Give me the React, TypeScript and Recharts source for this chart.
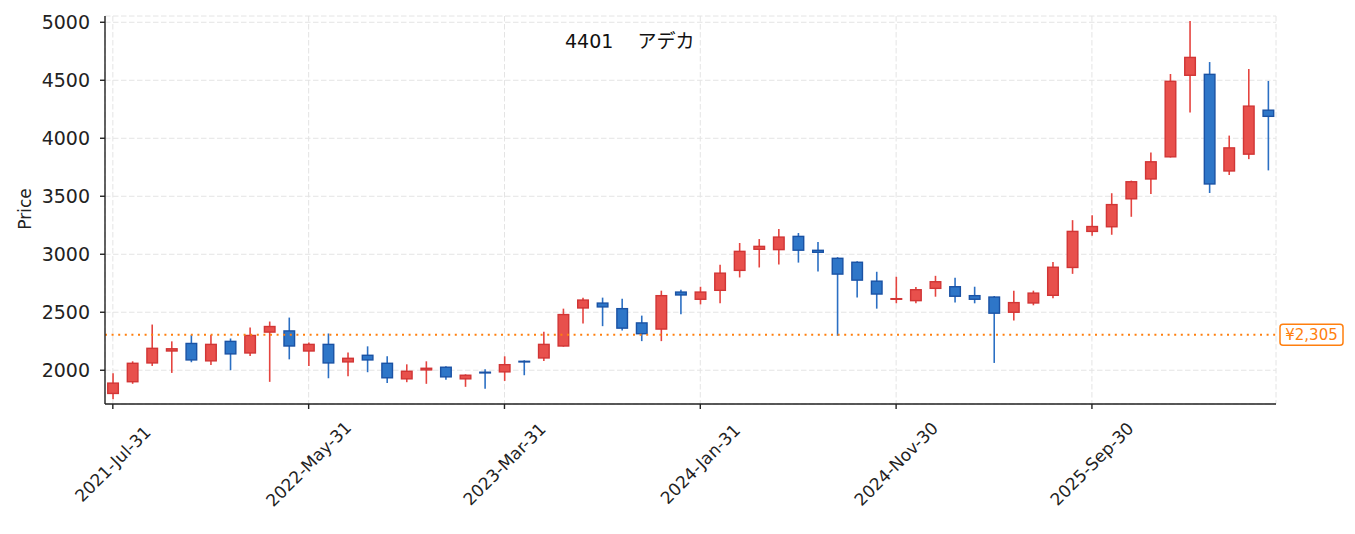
import React from "react";
import {
  ComposedChart,
  Bar,
  XAxis,
  YAxis,
  CartesianGrid,
  ReferenceLine,
} from "recharts";

const title = "4401  アデカ";
const yLabel = "Price";
const refPrice = 2305;
const refLabel = "¥2,305";

const dates = [
  "2021-07-31", "2021-08-31", "2021-09-30", "2021-10-31", "2021-11-30", "2021-12-31",
  "2022-01-31", "2022-02-28", "2022-03-31", "2022-04-30", "2022-05-31", "2022-06-30",
  "2022-07-31", "2022-08-31", "2022-09-30", "2022-10-31", "2022-11-30", "2022-12-31",
  "2023-01-31", "2023-02-28", "2023-03-31", "2023-04-30", "2023-05-31", "2023-06-30",
  "2023-07-31", "2023-08-31", "2023-09-30", "2023-10-31", "2023-11-30", "2023-12-31",
  "2024-01-31", "2024-02-29", "2024-03-31", "2024-04-30", "2024-05-31", "2024-06-30",
  "2024-07-31", "2024-08-31", "2024-09-30", "2024-10-31", "2024-11-30", "2024-12-31",
  "2025-01-31", "2025-02-28", "2025-03-31", "2025-04-30", "2025-05-31", "2025-06-30",
  "2025-07-31", "2025-08-31", "2025-09-30", "2025-10-31", "2025-11-30", "2025-12-31",
  "2026-01-31", "2026-02-28", "2026-03-31", "2026-04-30", "2026-05-31", "2026-06-30",
];

const opens = [
  1794, 1895, 2057, 2160, 2237, 2075, 2255, 2143, 2323, 2345,
  2160, 2229, 2066, 2135, 2066, 1920, 1997, 2032, 1920, 1989,
  1980, 2083, 2100, 2203, 2531, 2585, 2537, 2414, 2349, 2680,
  2606, 2683, 2855, 3037, 3034, 3160, 3040, 2971, 2937, 2774,
  2606, 2594, 2700, 2726, 2649, 2637, 2494, 2574, 2640, 2880,
  3191, 3231, 3472, 3643, 3834, 4537, 4557, 3712, 3857, 4248,
];
const highs = [
  1974, 2077, 2394, 2249, 2303, 2303, 2274, 2369, 2420, 2454,
  2240, 2317, 2154, 2206, 2120, 2051, 2077, 2035, 1965, 2009,
  2120, 2086, 2332, 2531, 2626, 2626, 2617, 2471, 2686, 2694,
  2720, 2909, 3097, 3131, 3217, 3183, 3106, 2975, 2940, 2849,
  2806, 2717, 2814, 2797, 2720, 2640, 2686, 2686, 2934, 3294,
  3337, 3526, 3635, 3877, 4554, 5010, 4657, 4023, 4597, 4494,
];
const lows = [
  1749, 1883, 2037, 1977, 2069, 2045, 2000, 2123, 1900, 2094,
  2037, 1931, 1949, 1983, 1889, 1897, 1883, 1917, 1857, 1840,
  1908, 1957, 2080, 2203, 2403, 2380, 2343, 2251, 2251, 2483,
  2568, 2577, 2800, 2886, 2911, 2928, 2851, 2297, 2628, 2531,
  2577, 2577, 2634, 2583, 2577, 2063, 2429, 2560, 2620, 2831,
  3160, 3168, 3323, 3520, 3834, 4223, 3528, 3683, 3820, 3723,
];
const closes = [
  1895, 2066, 2195, 2191, 2083, 2229, 2135, 2306, 2383, 2203,
  2229, 2057, 2109, 2083, 1929, 1997, 2023, 1937, 1963, 1971,
  2054, 2071, 2229, 2486, 2611, 2540, 2357, 2309, 2649, 2643,
  2680, 2843, 3031, 3074, 3154, 3029, 3011, 2823, 2771, 2651,
  2623, 2700, 2769, 2632, 2606, 2486, 2589, 2671, 2894, 3203,
  3245, 3434, 3631, 3803, 4497, 4703, 3600, 3923, 4283, 4183,
];

const xTickIdx = [0, 10, 20, 30, 40, 50];
const xTickLabels = ["2021-Jul-31", "2022-May-31", "2023-Mar-31", "2024-Jan-31", "2024-Nov-30", "2025-Sep-30"];
const yTicks = [2000, 2500, 3000, 3500, 4000, 4500, 5000];

const data = dates.map((d, i) => ({
  idx: i,
  date: d,
  open: opens[i],
  high: highs[i],
  low: lows[i],
  close: closes[i],
  range: [lows[i], highs[i]],
}));

const UP_FILL = "#e8504c";
const UP_EDGE = "#d13535";
const UP_WICK = "#e5443f";
const DN_FILL = "#2e76c8";
const DN_EDGE = "#1a52a4";
const DN_WICK = "#2b6fc3";
const ORANGE = "#ff7f0e";
const FONT = "'DejaVu Sans', 'Noto Sans CJK JP', sans-serif";

const Candle = (props: any) => {
  const { x, y, width, height, payload } = props;
  if (!payload) return null;
  const top = Math.min(y, y + height);
  const bottom = Math.max(y, y + height);
  const { open, close, high, low } = payload;
  const ppu = (bottom - top) / (high - low);
  const yOf = (v: number) => bottom - (v - low) * ppu;
  const cx = x + width / 2;
  const up = close >= open;
  const bTop = yOf(Math.max(open, close));
  const bBot = yOf(Math.min(open, close));
  const bw = 10.6;
  return (
    <g>
      <line x1={cx} x2={cx} y1={top} y2={bottom} stroke={up ? UP_WICK : DN_WICK} strokeWidth={1.6} />
      <rect
        x={cx - bw / 2}
        y={bTop + 0.7}
        width={bw}
        height={Math.max(bBot - bTop - 1.4, 0.6)}
        fill={up ? UP_FILL : DN_FILL}
        stroke={up ? UP_EDGE : DN_EDGE}
        strokeWidth={1.4}
      />
    </g>
  );
};

const XTick = (props: any) => {
  const { x, payload } = props;
  const i = xTickIdx.indexOf(payload.value);
  const label = i >= 0 ? xTickLabels[i] : "";
  const cy = 464;
  return (
    <text
      x={x}
      y={cy}
      transform={`rotate(-45 ${x} ${cy})`}
      textAnchor="middle"
      dominantBaseline="central"
      fontSize={17}
      fontFamily={FONT}
      fill="#222"
    >
      {label}
    </text>
  );
};

const RefLabel = (props: any) => {
  const vb = props.viewBox || {};
  const lx = (vb.x || 0) + (vb.width || 0) + 4;
  const ly = vb.y || 0;
  return (
    <g>
      <rect x={lx} y={ly - 10.5} width={63} height={21} rx={3} ry={3} fill="#fff" stroke={ORANGE} strokeWidth={1.5} />
      <text x={lx + 31.5} y={ly} textAnchor="middle" dominantBaseline="central" fontSize={15} fontFamily={FONT} fill={ORANGE}>
        {refLabel}
      </text>
    </g>
  );
};

export default function App() {
  const xDomain: [number, number] = [-0.4, 59.4];
  const yDomain: [number, number] = [1709, 5054];
  return (
    <div style={{ position: "absolute", left: 0, top: 0, width: 1355, height: 534, background: "#fff" }}>
      <ComposedChart
        width={1355}
        height={534}
        data={data}
        margin={{ top: 16, right: 79, bottom: 0, left: 0 }}
      >
        <CartesianGrid stroke="#e4e4e4" strokeDasharray="5.5 2.5" strokeWidth={1} />
        <XAxis
          dataKey="idx"
          type="number"
          domain={xDomain}
          ticks={xTickIdx}
          allowDataOverflow
          height={130}
          tick={<XTick />}
          tickSize={5}
          interval={0}
          axisLine={{ stroke: "#222", strokeWidth: 1.4 }}
          tickLine={{ stroke: "#222", strokeWidth: 1.4 }}
        />
        <XAxis
          xAxisId="top"
          orientation="top"
          type="number"
          domain={xDomain}
          allowDataOverflow
          height={0}
          tick={false}
          tickLine={false}
          axisLine={{ stroke: "#222", strokeWidth: 1.4 }}
        />
        <YAxis
          type="number"
          domain={yDomain}
          ticks={yTicks}
          allowDataOverflow
          width={105}
          tickSize={5}
          tickMargin={10}
          tick={{ fontSize: 19, fontFamily: FONT, fill: "#222" }}
          axisLine={{ stroke: "#222", strokeWidth: 1.4 }}
          tickLine={{ stroke: "#222", strokeWidth: 1.4 }}
        />
        <YAxis
          yAxisId="right"
          orientation="right"
          type="number"
          domain={yDomain}
          allowDataOverflow
          width={0}
          tick={false}
          tickLine={false}
          axisLine={{ stroke: "#222", strokeWidth: 1.4 }}
        />
        <ReferenceLine
          y={refPrice}
          stroke={ORANGE}
          strokeWidth={2}
          strokeDasharray="2 4.6"
          label={<RefLabel />}
        />
        <Bar dataKey="range" barSize={12} shape={<Candle />} isAnimationActive={false} />
      </ComposedChart>
      <div
        style={{
          position: "absolute",
          left: 565,
          top: 29,
          fontSize: 19,
          fontFamily: FONT,
          color: "#111",
          whiteSpace: "pre",
          wordSpacing: "6px",
          lineHeight: "24px",
        }}
      >
        {title}
      </div>
      <div
        style={{
          position: "absolute",
          left: 25,
          top: 209,
          fontSize: 17,
          fontFamily: FONT,
          color: "#222",
          transform: "translate(-50%, -50%) rotate(-90deg)",
          whiteSpace: "nowrap",
        }}
      >
        {yLabel}
      </div>
    </div>
  );
}
